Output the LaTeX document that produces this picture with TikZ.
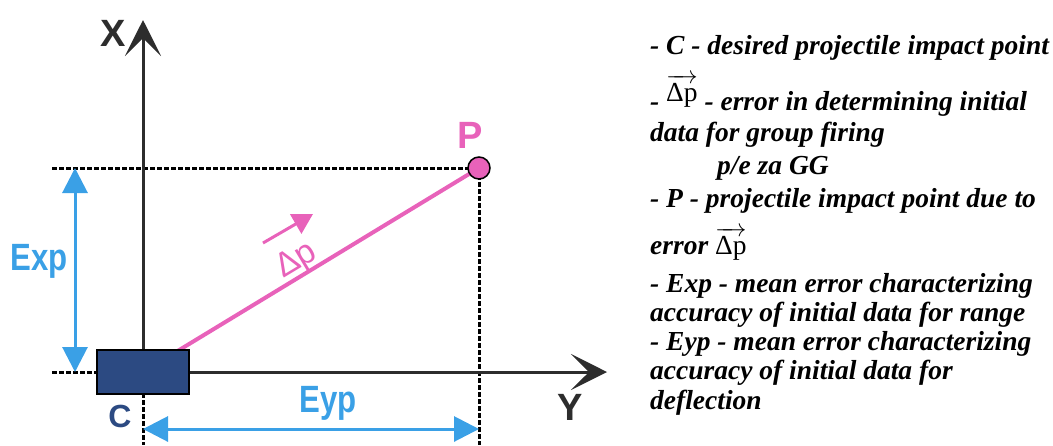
\documentclass[tikz,border=0pt]{standalone}
\usepackage{fontspec}
\setmainfont{Liberation Serif}
\newfontfamily\labelfont{Liberation Sans}
\usetikzlibrary{arrows.meta}

\definecolor{impactpink}{RGB}{232,98,186}
\definecolor{errblue}{RGB}{58,160,230}
\definecolor{boxblue}{RGB}{44,74,130}
\definecolor{axisgray}{RGB}{45,45,45}

\newcommand{\errvec}{$\overrightarrow{\mbox{\normalfont Δp}}$}

\begin{document}
\begin{tikzpicture}[x=1pt,y=-1pt,
	axis/.style={axisgray,line width=3pt,-{Stealth[length=36pt,width=36pt,inset=18pt]}},
	guide/.style={black,line width=3pt,dash pattern=on 5pt off 2pt},
	span/.style={errblue,line width=3pt,{Triangle[length=25pt,width=25pt]}-{Triangle[length=25pt,width=25pt]}},
	lbl/.style={anchor=base,inner sep=0pt,font=\labelfont\bfseries\fontsize{38}{38}\selectfont},
	note/.style={anchor=base west,inner sep=0pt,font=\bfseries\itshape\fontsize{27.5}{30}\selectfont}]
	\useasboundingbox (0,0) rectangle (1053,445);

	\coordinate (c) at (143,372);
	\coordinate (p) at (479,168);
	\coordinate (xtip) at (143,20);
	\coordinate (ytip) at (607,372);
	\coordinate (gx) at (52,168);
	\coordinate (gc) at (52,372);
	\coordinate (gp) at (479,445);
	\coordinate (gb) at (143,445);
	\coordinate (ex0) at (75,168);
	\coordinate (ex1) at (75,372);
	\coordinate (ey0) at (143,429);
	\coordinate (ey1) at (479,429);
	\coordinate (d0) at (263,243);
	\coordinate (d1) at (313,214);

	% guide lines
	\draw[guide] (gx) -- (p);
	\draw[guide] (gc) -- (c);
	\draw[guide] (p) -- (gp);
	\draw[guide] (c) -- (gb);

	% error vector
	\draw[impactpink,line width=3pt,-{Triangle[length=20pt,width=22pt]}] (d0) -- (d1);
	\node[impactpink,inner sep=0pt,rotate=31,font=\labelfont\fontsize{34}{34}\selectfont] (dp) at (297,261) {Δp};
	\draw[impactpink,line width=4pt] (c) -- (p);

	% axes
	\draw[axis] (c) -- (xtip);
	\draw[axis] (c) -- (ytip);

	\node[draw=black,line width=1.5pt,fill=boxblue,minimum width=92pt,minimum height=44pt] (box) at (c) {};
	\node[circle,draw=black,line width=1.5pt,fill=impactpink,minimum size=22pt,inner sep=0pt] (P) at (p) {};

	% spans
	\draw[span] (ex0) -- (ex1);
	\draw[span] (ey0) -- (ey1);

	\node[lbl,axisgray] (xl) at (113,46) {X};
	\node[lbl,axisgray] (yl) at (570,420) {Y};
	\node[lbl,impactpink] (pl) at (470,148) {P};
	\node[lbl,boxblue,font=\labelfont\bfseries\fontsize{32}{32}\selectfont] (cl) at (120,427) {C};
	\node[lbl,errblue,xscale=0.82] (expl) at (39,270) {Exp};
	\node[lbl,errblue,xscale=0.82] (eypl) at (328,412) {Eyp};

	% legend
	\node[note] (t1) at (650,54) {- C - desired projectile impact point};
	\node[note] (t2) at (650,110) {- \raisebox{9pt}{\errvec} - error in determining initial};
	\node[note] (t3) at (650,141) {data for group firing};
	\node[note] (t4) at (717,174) {p/e za GG};
	\node[note] (t5) at (650,207) {- P - projectile impact point due to};
	\node[note] (t6) at (650,254) {error \errvec};
	\node[note] (t7) at (650,292) {- Exp - mean error characterizing};
	\node[note] (t8) at (650,321) {accuracy of initial data for range};
	\node[note] (t9) at (650,350) {- Eyp - mean error characterizing};
	\node[note] (t10) at (650,379) {accuracy of initial data for};
	\node[note] (t11) at (650,409) {deflection};
\end{tikzpicture}
\end{document}
